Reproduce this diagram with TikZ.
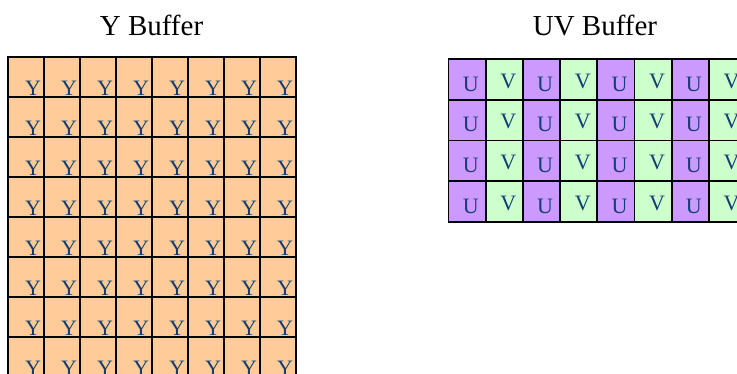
\documentclass[tikz,border=0pt]{standalone}
\usepackage{fontspec}
\setmainfont{Liberation Serif}
\usetikzlibrary{positioning}
\definecolor{ypeach}{HTML}{FFCC99}
\definecolor{ulilac}{HTML}{CC99FF}
\definecolor{vmint}{HTML}{CCFFCC}
\definecolor{letterblue}{HTML}{123F73}

\begin{document}
\begin{tikzpicture}[x=1pt,y=-1pt,
    cell/.style={inner sep=0pt,outer sep=0pt},
    ycell/.style={cell,fill=ypeach,minimum width=36pt,minimum height=40pt},
    ucell/.style={cell,fill=ulilac,minimum width=37.2pt,minimum height=40.8pt},
    vcell/.style={cell,fill=vmint,minimum width=37.2pt,minimum height=40.8pt},
    border/.style={draw=black,line width=1.8pt},
    letter/.style={text=letterblue,anchor=base,inner sep=0pt,font=\fontsize{22}{24}\selectfont},
    title/.style={anchor=base,inner sep=0pt,font=\fontsize{29}{32}\selectfont}]
    \useasboundingbox (0,0) rectangle (737,374);
    \clip (0,0) rectangle (737,374);

    \node[title] (ytitle) at (151.5,35.5) {Y Buffer};
    \node[title] (uvtitle) at (595,36) {UV Buffer};

    % luma plane
    \foreach \r in {0,...,7}
        \foreach \c in {0,...,7}
            \node[ycell] (y\r\c) at (26.3+36*\c,76.7+40*\r) {};
    \foreach \r in {0,...,7}
        \foreach \c in {0,...,7} {
            \draw[border] (y\r\c.north west) rectangle (y\r\c.south east);
            \node[letter] (ly\r\c) at ([xshift=6.8pt,yshift=1pt]y\r\c.south) {Y};
        }

    % interleaved chroma plane
    \foreach \r in {0,...,3}
        \foreach \p in {0,...,3} {
            \node[ucell] (u\r\p) at (467.1+74.4*\p,79.4+40.8*\r) {};
            \node[vcell] (v\r\p) at (504.3+74.4*\p,79.4+40.8*\r) {};
        }
    \foreach \r in {0,...,3}
        \foreach \p in {0,...,3} {
            \draw[border] (u\r\p.north west) rectangle (u\r\p.south east);
            \draw[border] (v\r\p.north west) rectangle (v\r\p.south east);
            \node[letter] (lu\r\p) at ([xshift=3.6pt,yshift=8.7pt]u\r\p.south) {U};
            \node[letter] (lv\r\p) at ([xshift=4pt,yshift=11.7pt]v\r\p.south) {V};
        }
\end{tikzpicture}
\end{document}
